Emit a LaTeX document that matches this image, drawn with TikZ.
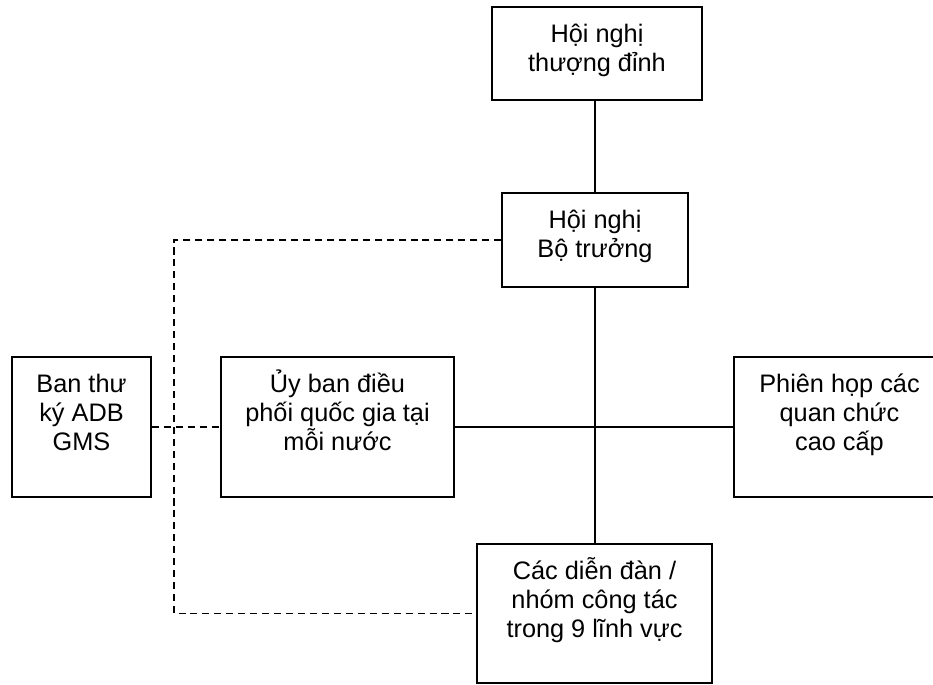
\documentclass[tikz,border=0pt]{standalone}
\usepackage{fontspec}
\setmainfont{Liberation Sans}
\newcommand{\boxlines}[3]{\parbox[t][#2][t]{#1}{\centering\rule{0pt}{24.9pt}#3}}
\tikzset{
  box/.style={draw,rectangle,inner sep=0pt},
  link/.style={dash pattern=on 5pt off 3.5pt}
}
\begin{document}
\begin{tikzpicture}[x=0.025cm,y=-0.025cm,line width=1.1pt,font=\fontsize{18}{20.7}\selectfont]
  \useasboundingbox (0,0) rectangle (933,684);
  \clip (0,0) rectangle (933,684);
  % boxes
  \node[box] (summit) at (597,53.5) {\boxlines{5.25cm}{2.325cm}{Hội nghị\\thượng đỉnh}};
  \node[box] (minister) at (595,240) {\boxlines{4.65cm}{2.35cm}{Hội nghị\\Bộ trưởng}};
  \node[box] (adb) at (81.5,427) {\boxlines{3.475cm}{3.5cm}{Ban thư\\ký ADB\\GMS}};
  \node[box] (national) at (337.5,427) {\boxlines{5.825cm}{3.5cm}{Ủy ban điều\\phối quốc gia tại\\mỗi nước}};
  \node[box] (senior) at (839.5,427) {\boxlines{5.275cm}{3.5cm}{Phiên họp các\\quan chức\\cao cấp}};
  \node[box] (forum) at (594.5,613.5) {\boxlines{5.875cm}{3.475cm}{Các diễn đàn /\\nhóm công tác\\trong 9 lĩnh vực}};
  \coordinate (bend) at (174,240);
  % solid links
  \draw (minister.north) -- (minister.north |- summit.south);
  \draw (minister.south) -- (minister.south |- forum.north);
  \draw (national) -- (senior);
  % dashed links
  \draw[link] (minister.west) -- (bend) -- (bend |- forum.west) -- (forum.west);
  \draw[link] (adb) -- (national);
\end{tikzpicture}
\end{document}
